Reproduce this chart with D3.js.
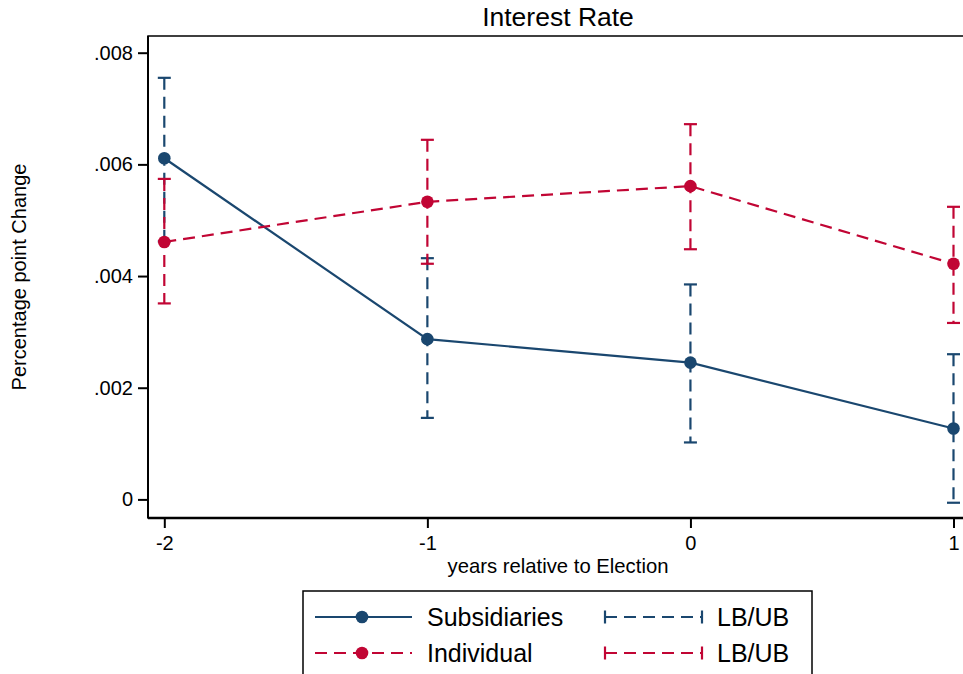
<!DOCTYPE html>
<html><head><meta charset="utf-8">
<script src="https://cdn.jsdelivr.net/npm/d3@7"></script>
<style>
html,body{margin:0;padding:0;background:#fff;}
svg{display:block;font-family:"Liberation Sans",Arial,sans-serif;}
</style></head>
<body><svg id="c" width="963" height="674"></svg>
<script>
const years = [-2, -1, 0, 1];
const subsEst = [0.00611, 0.00287, 0.00245, 0.00127];
const subsLB  = [0.00462, 0.00146, 0.00102, -0.00006];
const subsUB  = [0.00755, 0.00432, 0.00385, 0.00260];
const indEst  = [0.00461, 0.00533, 0.00561, 0.00422];
const indLB   = [0.00351, 0.00422, 0.00448, 0.00316];
const indUB   = [0.00574, 0.00644, 0.00672, 0.00524];
const yTicks = [0, 0.002, 0.004, 0.006, 0.008];
const yTickLabels = ["0", ".002", ".004", ".006", ".008"];
const xTicks = [-2, -1, 0, 1];
const xTickLabels = ["-2", "-1", "0", "1"];
const titleText = "Interest Rate";
const xTitle = "years relative to Election";
const yTitle = "Percentage point Change";
const legendLabels = ["Subsidiaries", "LB/UB", "Individual", "LB/UB"];

const NAVY = "#1a476f", RED = "#c10534";
const svg = d3.select("#c");
const plot = {left:148, right:969, top:36, bottom:518};
const x = d3.scaleLinear().domain([-2, 1]).range([164.3, 953.5]);
const y = d3.scaleLinear().domain([0, 0.008]).range([499.4, 52.7]);

// frame
svg.append("rect").attr("x", plot.left).attr("y", plot.top)
  .attr("width", plot.right - plot.left).attr("height", plot.bottom - plot.top)
  .attr("fill", "none").attr("stroke", "#000").attr("stroke-width", 1.5);

// y axis
const yAxis = svg.append("g").attr("transform", `translate(${plot.left},0)`)
  .call(d3.axisLeft(y).tickValues(yTicks).tickSize(10).tickPadding(5)
    .tickFormat((d, i) => yTickLabels[i]));
yAxis.select(".domain").attr("d", `M0,${plot.top}V${plot.bottom}`).attr("stroke-width", 2);
yAxis.selectAll(".tick line").attr("stroke-width", 2);
yAxis.selectAll("text").attr("font-size", 20).attr("fill", "#000")
  .attr("font-family", "Liberation Sans, Arial, sans-serif");

// x axis
const xAxis = svg.append("g").attr("transform", `translate(0,${plot.bottom})`)
  .call(d3.axisBottom(x).tickValues(xTicks).tickSize(10).tickPadding(8)
    .tickFormat((d, i) => xTickLabels[i]));
xAxis.select(".domain").attr("d", `M${plot.left},0H963`).attr("stroke-width", 2.5);
xAxis.selectAll(".tick line").attr("stroke-width", 2);
xAxis.selectAll("text").attr("font-size", 20).attr("fill", "#000")
  .attr("font-family", "Liberation Sans, Arial, sans-serif");

// titles
svg.append("text").attr("x", 558).attr("y", 26).attr("text-anchor", "middle")
  .attr("font-size", 26.5).text(titleText);
svg.append("text").attr("x", 558).attr("y", 573).attr("text-anchor", "middle")
  .attr("font-size", 20.3).text(xTitle);
svg.append("text").attr("transform", "translate(26,277) rotate(-90)")
  .attr("text-anchor", "middle").attr("font-size", 20).text(yTitle);

const line = d3.line().x(d => x(d[0])).y(d => y(d[1]));
const DASH = "12,7";
const CAP = 6.5;
const SW = 2.2;
const R = 6.3;

function drawSeries(est, color, dashed) {
  svg.append("path").datum(years.map((yr, i) => [yr, est[i]]))
    .attr("d", line).attr("fill", "none").attr("stroke", color).attr("stroke-width", SW)
    .attr("stroke-dasharray", dashed ? DASH : null);
  svg.append("g").selectAll("circle").data(years).join("circle")
    .attr("cx", d => x(d)).attr("cy", (d, i) => y(est[i])).attr("r", R).attr("fill", color);
}
function drawCaps(lb, ub, color) {
  const g = svg.append("g").attr("stroke", color).attr("stroke-width", SW).attr("fill", "none");
  g.selectAll("line.v").data(years).join("line").attr("class", "v")
    .attr("x1", d => x(d)).attr("x2", d => x(d))
    .attr("y1", (d, i) => y(ub[i])).attr("y2", (d, i) => y(lb[i]))
    .attr("stroke-dasharray", DASH);
  g.selectAll("line.u").data(years).join("line").attr("class", "u")
    .attr("x1", d => x(d) - CAP).attr("x2", d => x(d) + CAP)
    .attr("y1", (d, i) => y(ub[i])).attr("y2", (d, i) => y(ub[i]));
  g.selectAll("line.l").data(years).join("line").attr("class", "l")
    .attr("x1", d => x(d) - CAP).attr("x2", d => x(d) + CAP)
    .attr("y1", (d, i) => y(lb[i])).attr("y2", (d, i) => y(lb[i]));
}
drawSeries(subsEst, NAVY, false);
drawCaps(subsLB, subsUB, NAVY);
drawSeries(indEst, RED, true);
drawCaps(indLB, indUB, RED);

// legend
const lg = svg.append("g");
lg.append("rect").attr("x", 303).attr("y", 591).attr("width", 509).attr("height", 110)
  .attr("fill", "#fff").attr("stroke", "#000").attr("stroke-width", 1.5);
const rows = [617, 653];
const colors = [NAVY, RED];
rows.forEach((ry, r) => {
  const c = colors[r];
  lg.append("line").attr("x1", 315).attr("x2", 412).attr("y1", ry).attr("y2", ry)
    .attr("stroke", c).attr("stroke-width", SW).attr("stroke-dasharray", r === 1 ? DASH : null);
  lg.append("circle").attr("cx", 362).attr("cy", ry).attr("r", R).attr("fill", c);
  lg.append("text").attr("x", 427).attr("y", ry + 8.5).attr("font-size", 25).text(legendLabels[r * 2]);
  lg.append("line").attr("x1", 605).attr("x2", 702).attr("y1", ry).attr("y2", ry)
    .attr("stroke", c).attr("stroke-width", SW).attr("stroke-dasharray", DASH);
  [605, 702].forEach(cx => lg.append("line").attr("x1", cx).attr("x2", cx)
    .attr("y1", ry - CAP).attr("y2", ry + CAP).attr("stroke", c).attr("stroke-width", SW));
  lg.append("text").attr("x", 717).attr("y", ry + 8.5).attr("font-size", 25).text(legendLabels[r * 2 + 1]);
});
</script></body></html>
